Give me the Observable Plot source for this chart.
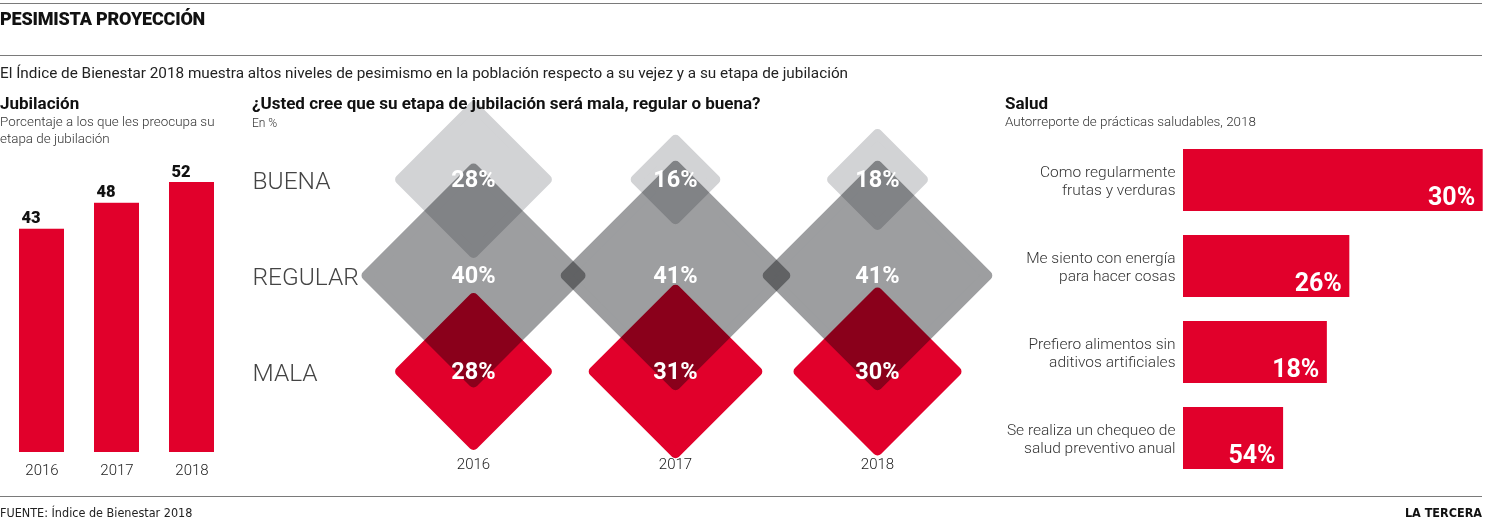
<!DOCTYPE html>
<html><head><meta charset="utf-8">
<script src="https://cdn.jsdelivr.net/npm/d3@7"></script>
<script src="https://cdn.jsdelivr.net/npm/@observablehq/plot@0.6"></script>
<style>
body{margin:0;background:#fff;}
#root{position:relative;width:1489px;height:520px;overflow:hidden;font-family:Roboto, sans-serif;color:#222;}
.t{position:absolute;white-space:nowrap;line-height:20px;}
.rule{position:absolute;left:0;width:1482px;height:0;border-top:1.5px solid #7a7a7a;}
.cond{font-family:'Liberation Sans Narrow','DejaVu Sans Condensed','DejaVu Sans',sans-serif;font-stretch:condensed;}
#root svg{position:absolute;}
</style></head><body><div id="root"></div>
<script>
// ---- data ----
const years = ["2016", "2017", "2018"];
const jubilacion = [43, 48, 52];
const filas = ["BUENA", "REGULAR", "MALA"];
const buena = [28, 16, 18];
const regular = [40, 41, 41];
const mala = [28, 31, 30];
const saludLabels = [
  "Como regularmente\nfrutas y verduras",
  "Me siento con energía\npara hacer cosas",
  "Prefiero alimentos sin\naditivos artificiales",
  "Se realiza un chequeo de\nsalud preventivo anual"
];
const saludValores = [30, 26, 18, 54];
const saludLargo = [100, 55.5, 48, 33.4]; // drawn bar length, % of the longest bar
// ---- styles ----
const rojo = "#e1002b";
const filaColores = ["#d2d3d5", "#9d9ea0", "#e1002b"];

const root = document.getElementById("root");
function txt(s, x, y, css, right, cls) {
  const d = document.createElement("div");
  d.className = "t" + (cls ? " " + cls : "");
  d.textContent = s;
  d.style.cssText += css;
  if (right) d.style.right = (1489 - x) + "px"; else d.style.left = x + "px";
  d.style.top = (y - 10) + "px";
  root.appendChild(d);
  return d;
}
function rule(y) {
  const d = document.createElement("div");
  d.className = "rule"; d.style.top = y + "px"; root.appendChild(d);
}
function place(svg, left, top) {
  svg.style.left = left + "px"; svg.style.top = top + "px"; root.appendChild(svg);
}

// ---- panel 1: Jubilación ----
const jub = years.map((y, i) => ({year: y, value: jubilacion[i]}));
const p1 = Plot.plot({
  width: 240, height: 345,
  style: {background: "transparent", overflow: "visible", fontFamily: "Roboto"},
  x: {domain: years, range: [4, 229], paddingInner: 0.4, paddingOuter: 0.2, axis: null},
  y: {domain: [0, 52], range: [312, 42], axis: null},
  marks: [
    Plot.barY(jub, {x: "year", y: "value", fill: rojo}),
    Plot.text(jub, {x: "year", y: "value", text: d => String(d.value), dx: -20.5, dy: -6, textAnchor: "start", lineAnchor: "bottom", fontSize: 16.5, fontWeight: 900, fill: "#111"}),
    Plot.text(jub, {x: "year", y: 0, text: "year", dy: 18, lineAnchor: "middle", fontSize: 15, fontWeight: 300, fill: "#222"})
  ]
});
place(p1, 0, 140);

// ---- panel 2: diamonds ----
const diamantes = [];
years.forEach((y, i) => {
  diamantes.push({year: y, fila: "BUENA", v: buena[i]});
  diamantes.push({year: y, fila: "REGULAR", v: regular[i]});
  diamantes.push({year: y, fila: "MALA", v: mala[i]});
});
const p2 = Plot.plot({
  width: 750, height: 395,
  marginLeft: 2, marginBottom: 21,
  style: {background: "transparent", overflow: "visible", fontFamily: "Roboto"},
  x: {type: "point", domain: years, range: [222, 627], padding: 0, axis: null},
  y: {type: "point", domain: filas, range: [88, 281], padding: 0, axis: null},
  r: {type: "linear", domain: [16, 41], range: [35.86, 98.92]},
  color: {domain: filas, range: filaColores},
  marks: [
    Plot.dot(diamantes, {x: "year", y: "fila", r: "v", symbol: "diamond2", fill: "fila", stroke: "fila", strokeWidth: 10, strokeLinejoin: "round", mixBlendMode: "multiply"}),
    Plot.text(diamantes, {x: "year", y: "fila", text: d => d.v + "%", fill: "white", fontSize: 23.5, fontWeight: 700}),
    Plot.text(filas, {y: d => d, frameAnchor: "left", text: d => d, textAnchor: "start", dy: 2, fontSize: 24.5, fontWeight: 300, fill: "#444"}),
    Plot.text(years, {x: d => d, frameAnchor: "bottom", text: d => d, lineAnchor: "middle", fontSize: 15, fontWeight: 300, fill: "#222"})
  ]
});
d3.select(p2).selectAll('g[aria-label="dot"] path').style("mix-blend-mode", "multiply");
place(p2, 250, 90);

// ---- panel 3: Salud ----
const salud = saludLabels.map((l, i) => ({label: l, valor: saludValores[i], largo: saludLargo[i]}));
const p3 = Plot.plot({
  width: 489, height: 360,
  style: {background: "transparent", overflow: "visible", fontFamily: "Roboto"},
  x: {domain: [0, 100], range: [183, 482.7], axis: null},
  y: {domain: saludLabels, range: [6, 351.2], paddingInner: 0.28, paddingOuter: 0.14, axis: null},
  marks: [
    Plot.barX(salud, {y: "label", x: "largo", fill: rojo}),
    Plot.text(salud, {y: "label", x: "largo", text: d => d.valor + "%", dx: -8, dy: 16, textAnchor: "end", fill: "white", fontSize: 25, fontWeight: 700}),
    Plot.text(salud, {y: "label", x: 0, text: "label", dx: -8, textAnchor: "end", fontSize: 15.5, fontWeight: 300, fill: "#333", lineHeight: 1.15})
  ]
});
place(p3, 1000, 130);

// ---- texts ----
rule(3); rule(55); rule(496);
txt("PESIMISTA PROYECCIÓN", 0, 19, "font-size:18px;font-weight:900;color:#111;letter-spacing:-0.2px;");
txt("El Índice de Bienestar 2018 muestra altos niveles de pesimismo en la población respecto a su vejez y a su etapa de jubilación", 0, 73, "font-size:15.3px;color:#222;");
txt("Jubilación", 0, 103, "font-size:17px;font-weight:700;color:#111;");
txt("Porcentaje a los que les preocupa su", 0, 122, "font-size:13.4px;font-weight:300;color:#333;");
txt("etapa de jubilación", 0, 139, "font-size:13.4px;font-weight:300;color:#333;");
txt("¿Usted cree que su etapa de jubilación será mala, regular o buena?", 252, 103, "font-size:17px;font-weight:700;color:#111;");
txt("En %", 252, 123, "font-size:12px;font-weight:300;color:#333;");
txt("Salud", 1005, 103, "font-size:17px;font-weight:700;color:#111;");
txt("Autorreporte de prácticas saludables, 2018", 1005, 122, "font-size:13.4px;font-weight:300;color:#333;");
txt("FUENTE: Índice de Bienestar 2018", 0, 513, "font-size:12.5px;color:#222;", false, "cond");
txt("LA TERCERA", 1482, 513, "font-size:12.5px;font-weight:700;color:#111;", true, "cond");
</script></body></html>
